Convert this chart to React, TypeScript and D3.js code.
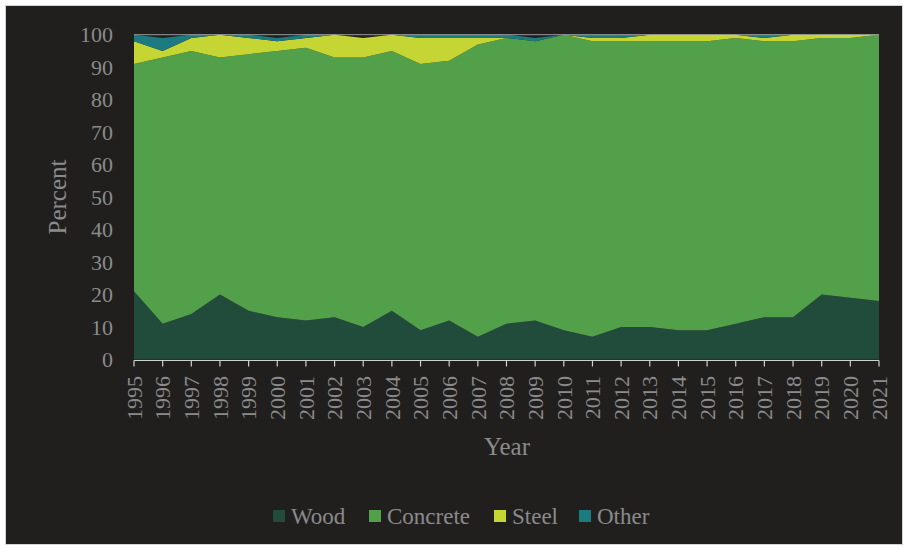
import React from "react";
import * as d3 from "d3";

const years = d3.range(1995, 2022);
const wood = [21, 11, 14, 20, 15, 13, 12, 13, 10, 15, 9, 12, 7, 11, 12, 9, 7, 10, 10, 9, 9, 11, 13, 13, 20, 19, 18];
const concrete = [70, 82, 81, 73, 79, 82, 84, 80, 83, 80, 82, 80, 90, 88, 86, 91, 91, 88, 88, 89, 89, 88, 85, 85, 79, 80, 82];
const steel = [7, 2, 4, 7, 5, 3, 3, 7, 6, 5, 8, 7, 2, 0, 0, 0, 1, 1, 2, 2, 2, 1, 1, 2, 1, 1, 0];
const other = [2, 4, 1, 0, 1, 1, 1, 0, 0, 0, 1, 1, 1, 1, 1, 0, 1, 1, 0, 0, 0, 0, 1, 0, 0, 0, 0];
const seriesNames = ["Wood", "Concrete", "Steel", "Other"];
const seriesColors = ["#214c3c", "#53a04a", "#c4d534", "#1b7b80"];
const yTicks = [0, 10, 20, 30, 40, 50, 60, 70, 80, 90, 100];

const W = 906;
const H = 548;
const FONT = "'Liberation Serif', 'Times New Roman', serif";
const TEXT = "#8b8b8b";

export default function App() {
  const rows = years.map((y, i) => ({
    year: y,
    Wood: wood[i],
    Concrete: concrete[i],
    Steel: steel[i],
    Other: other[i],
  }));
  const stacked = d3.stack<any>().keys(seriesNames)(rows);

  const x = d3.scaleLinear().domain([1995, 2021]).range([134, 879]);
  const y = d3.scaleLinear().domain([0, 100]).range([359.5, 34.7]);

  const area = d3
    .area<any>()
    .x((d) => x(d.data.year))
    .y0((d) => y(d[0]))
    .y1((d) => y(d[1]));

  const legendX = [273, 369, 494, 579];

  return (
    <svg
      width={W}
      height={H}
      style={{ position: "absolute", left: 0, top: 0, display: "block" }}
      fontFamily={FONT}
    >
      <rect x={0} y={0} width={W} height={H} fill="#ffffff" />
      <rect x={5.5} y={5.5} width={897} height={539} fill="#201f1e" stroke="#d4d4d4" />

      {stacked.map((s, i) => (
        <path key={s.key} d={area(s) || ""} fill={seriesColors[i]} />
      ))}

      <line x1={x(1995)} x2={x(2021)} y1={y(100)} y2={y(100)} stroke="#cfcfcf" strokeOpacity={0.7} />

      {/* x axis */}
      <line x1={x(1995)} x2={x(2021)} y1={360.5} y2={360.5} stroke="#d0d0d0" strokeWidth={1.2} />
      {years.map((yr) => (
        <g key={yr}>
          <line x1={x(yr)} x2={x(yr)} y1={360.5} y2={366.5} stroke="#d0d0d0" strokeWidth={1.2} />
          <text
            transform={`translate(${x(yr)},376) rotate(-90)`}
            textAnchor="end"
            dy="0.35em"
            fontSize={22}
            fill={TEXT}
          >
            {yr}
          </text>
        </g>
      ))}

      {/* y axis */}
      {yTicks.map((t) => (
        <text key={t} x={113} y={y(t)} dy="0.35em" textAnchor="end" fontSize={22} fill={TEXT}>
          {t}
        </text>
      ))}

      <text transform="translate(57,197) rotate(-90)" textAnchor="middle" dy="0.35em" fontSize={25} fill={TEXT}>
        Percent
      </text>
      <text x={507} y={455} textAnchor="middle" fontSize={25} fill={TEXT}>
        Year
      </text>

      {/* legend */}
      {seriesNames.map((n, i) => (
        <g key={n}>
          <rect x={legendX[i]} y={510} width={12} height={12} fill={seriesColors[i]} />
          <text x={legendX[i] + 18} y={523.5} fontSize={23} fill={TEXT}>
            {n}
          </text>
        </g>
      ))}
    </svg>
  );
}
